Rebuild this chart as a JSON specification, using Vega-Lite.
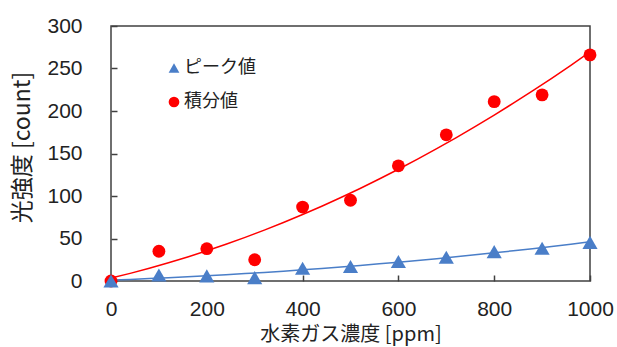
{
  "$schema": "https://vega.github.io/schema/vega-lite/v6.json",
  "width": 479,
  "height": 255,
  "autosize": "none",
  "padding": {"left": 111, "top": 26, "right": 27, "bottom": 66},
  "background": "white",
  "config": {
    "view": {"stroke": "#404040", "strokeWidth": 1.5},
    "font": "Liberation Sans",
    "legend": {"padding": 0}
  },
  "data": {
    "values": [
      {"x": 0, "series": "ピーク値", "y": 0},
      {"x": 100, "series": "ピーク値", "y": 7},
      {"x": 200, "series": "ピーク値", "y": 6},
      {"x": 300, "series": "ピーク値", "y": 4},
      {"x": 400, "series": "ピーク値", "y": 15},
      {"x": 500, "series": "ピーク値", "y": 17},
      {"x": 600, "series": "ピーク値", "y": 23},
      {"x": 700, "series": "ピーク値", "y": 28},
      {"x": 800, "series": "ピーク値", "y": 34.5},
      {"x": 900, "series": "ピーク値", "y": 38.5},
      {"x": 1000, "series": "ピーク値", "y": 45.5},
      {"x": 0, "series": "積分値", "y": 0},
      {"x": 100, "series": "積分値", "y": 35},
      {"x": 200, "series": "積分値", "y": 38},
      {"x": 300, "series": "積分値", "y": 25},
      {"x": 400, "series": "積分値", "y": 87},
      {"x": 500, "series": "積分値", "y": 95},
      {"x": 600, "series": "積分値", "y": 135.5},
      {"x": 700, "series": "積分値", "y": 172},
      {"x": 800, "series": "積分値", "y": 211},
      {"x": 900, "series": "積分値", "y": 219},
      {"x": 1000, "series": "積分値", "y": 266}
    ]
  },
  "encoding": {
    "x": {
      "field": "x", "type": "quantitative",
      "scale": {"domain": [0, 1000], "nice": false, "zero": false},
      "axis": {
        "title": "水素ガス濃度 [ppm]",
        "values": [0, 200, 400, 600, 800, 1000],
        "format": "d",
        "grid": false, "domain": false,
        "tickSize": -6, "tickColor": "#404040", "tickWidth": 1.5,
        "labelFont": "Liberation Sans", "labelFontSize": 21, "labelColor": "#222222",
        "labelPadding": 23, "labelFlush": false,
        "titleFont": "Noto Sans CJK JP", "titleFontSize": 20, "titleFontWeight": "normal", "titleColor": "#222222",
        "titleY": 59, "titleBaseline": "alphabetic"
      }
    },
    "y": {
      "field": "y", "type": "quantitative",
      "scale": {"domain": [0, 300], "nice": false},
      "axis": {
        "title": "光強度 [count]",
        "values": [0, 50, 100, 150, 200, 250, 300],
        "grid": false, "domain": false,
        "tickSize": -6, "tickColor": "#404040", "tickWidth": 1.5,
        "labelFont": "Liberation Sans", "labelFontSize": 21, "labelColor": "#222222",
        "labelPadding": 35, "labelFlush": false,
        "titleFont": "Noto Sans CJK JP", "titleFontSize": 23, "titleFontWeight": "normal", "titleColor": "#222222",
        "titleX": -89, "titleY": 121, "titleBaseline": "middle"
      }
    }
  },
  "layer": [
    {
      "transform": [
        {"filter": "datum.series === '積分値'"},
        {"regression": "y", "on": "x", "method": "poly", "order": 2}
      ],
      "mark": {"type": "line", "strokeWidth": 1.5, "color": "#FF0000", "clip": true},
      "encoding": {}
    },
    {
      "transform": [
        {"filter": "datum.series === 'ピーク値'"},
        {"regression": "y", "on": "x", "method": "poly", "order": 2}
      ],
      "mark": {"type": "line", "strokeWidth": 1.5, "color": "#4A7EC8", "clip": true},
      "encoding": {}
    },
    {
      "transform": [{"filter": "datum.series === '積分値'"}],
      "mark": {"type": "point", "filled": true, "opacity": 1, "size": 165},
      "encoding": {
        "color": {
          "field": "series", "type": "nominal",
          "scale": {"domain": ["ピーク値", "積分値"], "range": ["#4A7EC8", "#FF0000"]},
          "legend": {
            "title": null, "orient": "none", "legendX": 54, "legendY": 33,
            "labelFont": "Noto Sans CJK JP", "labelFontSize": 18, "labelColor": "#222222",
            "symbolSize": 115, "rowPadding": 16, "labelOffset": 1
          }
        },
        "shape": {
          "field": "series", "type": "nominal",
          "scale": {"domain": ["ピーク値", "積分値"], "range": ["triangle-up", "circle"]},
          "legend": {
            "title": null, "orient": "none", "legendX": 54, "legendY": 33,
            "labelFont": "Noto Sans CJK JP", "labelFontSize": 18, "labelColor": "#222222",
            "symbolSize": 115, "rowPadding": 16, "labelOffset": 1
          }
        }
      }
    },
    {
      "transform": [{"filter": "datum.series === 'ピーク値'"}],
      "mark": {"type": "point", "filled": true, "opacity": 1, "size": 230},
      "encoding": {
        "color": {
          "field": "series", "type": "nominal",
          "scale": {"domain": ["ピーク値", "積分値"], "range": ["#4A7EC8", "#FF0000"]},
          "legend": {
            "title": null, "orient": "none", "legendX": 54, "legendY": 33,
            "labelFont": "Noto Sans CJK JP", "labelFontSize": 18, "labelColor": "#222222",
            "symbolSize": 115, "rowPadding": 16, "labelOffset": 1
          }
        },
        "shape": {
          "field": "series", "type": "nominal",
          "scale": {"domain": ["ピーク値", "積分値"], "range": ["triangle-up", "circle"]},
          "legend": {
            "title": null, "orient": "none", "legendX": 54, "legendY": 33,
            "labelFont": "Noto Sans CJK JP", "labelFontSize": 18, "labelColor": "#222222",
            "symbolSize": 115, "rowPadding": 16, "labelOffset": 1
          }
        }
      }
    }
  ]
}
